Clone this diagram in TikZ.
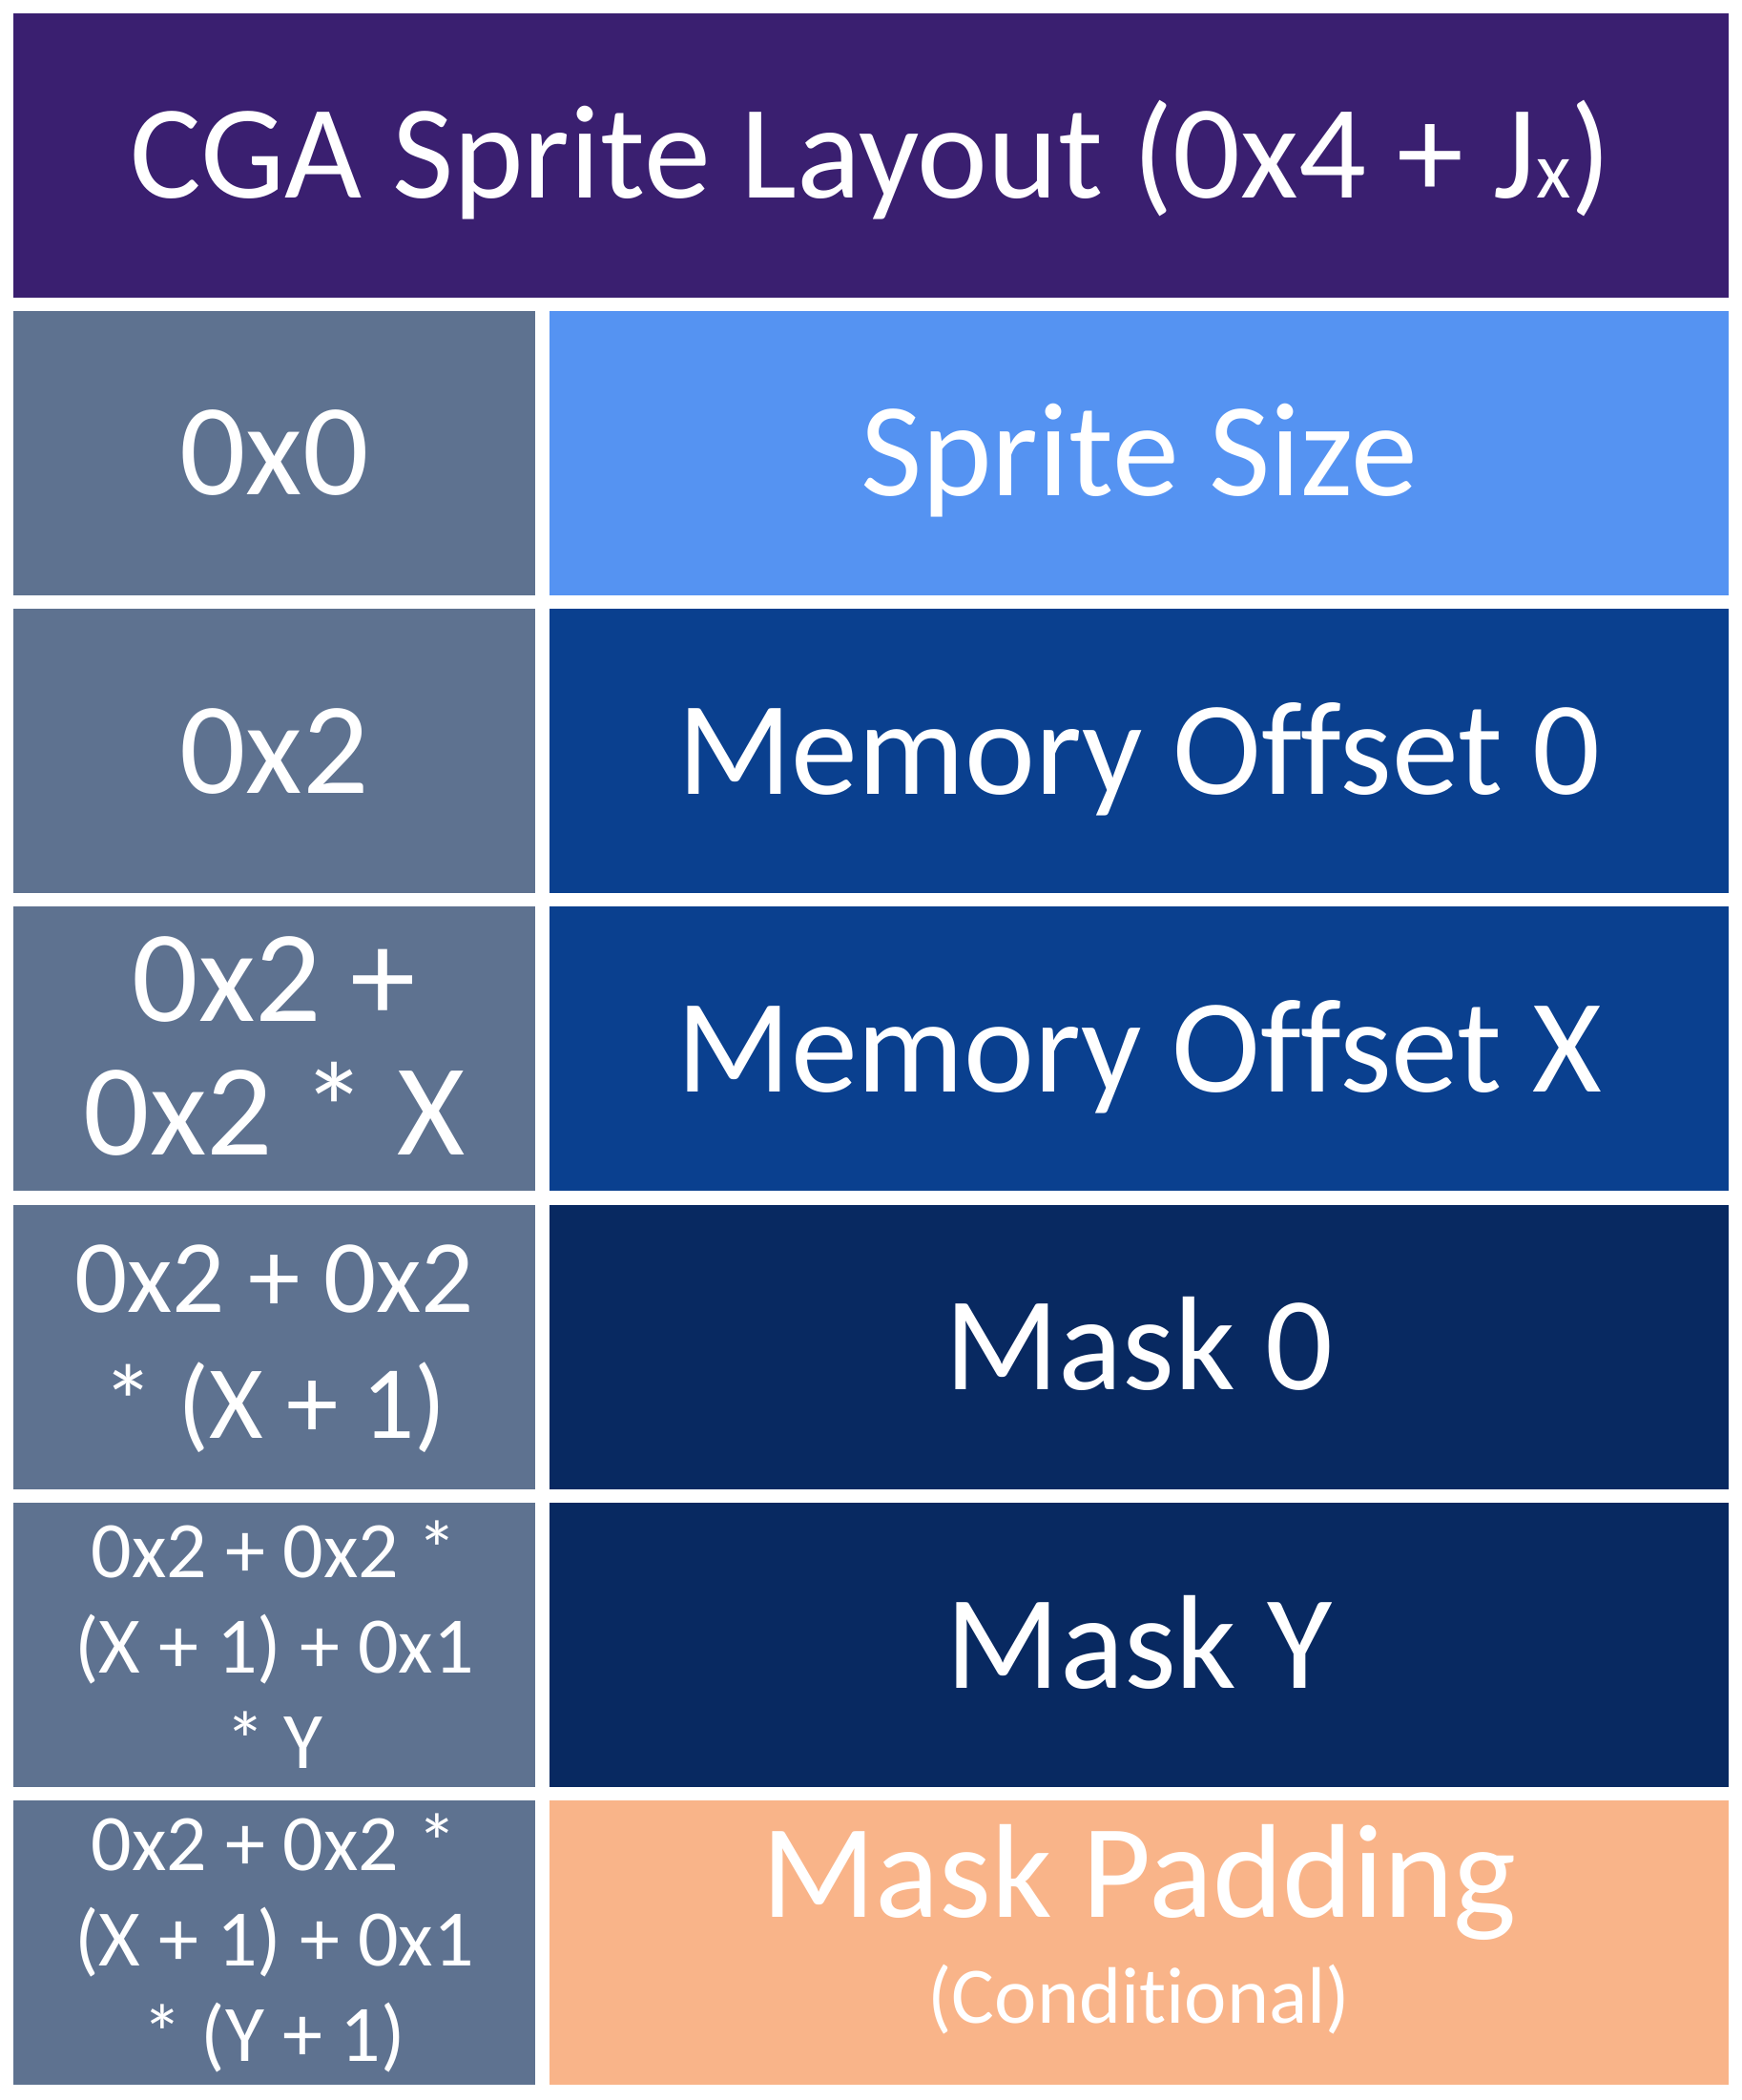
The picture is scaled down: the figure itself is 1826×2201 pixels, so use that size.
\documentclass[tikz,border=0pt]{standalone}
\usepackage{fontspec}
\setmainfont{Carlito}[Ligatures=NoCommon]
\usetikzlibrary{positioning}
\definecolor{hdr}{RGB}{58,31,112}
\definecolor{slate}{RGB}{94,114,144}
\definecolor{spr}{RGB}{85,147,242}
\definecolor{mem}{RGB}{10,64,143}
\definecolor{msk}{RGB}{8,41,97}
\definecolor{pad}{RGB}{249,180,137}
\tikzset{
  cell/.style={fill=#1,text=white,inner sep=0pt,outer sep=0pt,minimum height=298pt,align=center},
  offbox/.style={cell=slate,minimum width=547pt},
  fldbox/.style={cell=#1,minimum width=1236pt},
  lbl/.style={text=white,inner sep=0pt,align=center},
  huge/.style={font=\fontsize{137}{140}\selectfont},
  large/.style={font=\fontsize{140}{140}\selectfont},
  capmid/.style={text height=#1,text depth=0pt},
  capmid/.default=88pt
}

\begin{document}
\begin{tikzpicture}[x=1pt,y=-1pt]
  \useasboundingbox (0,0) rectangle (1826,2201);
  \node[cell=hdr,minimum width=1798pt,large,capmid=90pt] (title) at (913,162.5) {CGA Sprite Layout (0x4 + J{\fontsize{84}{84}\selectfont x})};
  \foreach \k/\t in {1/0x0,2/0x2} {\node[offbox,huge,capmid] (off\k) at (287.5,{162.5+312.3*\k}) {\t};}
  \foreach \k in {3,4} {\node[offbox] (off\k) at (287.5,{162.5+312.3*\k}) {};}
  \node[lbl,huge] (off3txt) at ([yshift=3pt]off3.center) {0x2 +\\0x2 * X};
  \node[lbl,font=\fontsize{109}{132}\selectfont] (off4txt) at ([yshift=-2pt]off4.center) {0x2 + 0x2\\* (X + 1)};
  \node[offbox,font=\fontsize{84}{100}\selectfont] (off5) at (287.5,{162.5+312.3*5}) {0x2 + 0x2 *\\(X + 1) + 0x1\\* Y};
  \node[offbox,font=\fontsize{84}{100}\selectfont] (off6) at (287.5,{162.5+312.3*6}) {0x2 + 0x2 *\\(X + 1) + 0x1\\* (Y + 1)};
  \foreach \k/\c/\t in {1/spr/{Sprite Size},2/mem/{Memory Offset 0},3/mem/{Memory Offset X},4/msk/{Mask 0},5/msk/{Mask Y}} {\node[fldbox=\c,large,capmid=90pt] (fld\k) at (1194,{162.5+312.3*\k}) {\t};}
  \node[fldbox=pad] (fld6) at (1194,{162.5+312.3*6}) {};
  \node[lbl,font=\fontsize{84}{111.7}\selectfont] (fld6txt) at ([yshift=14pt]fld6.center) {{\fontsize{140}{111.7}\selectfont Mask Padding}\\(Conditional)};
\end{tikzpicture}
\end{document}
